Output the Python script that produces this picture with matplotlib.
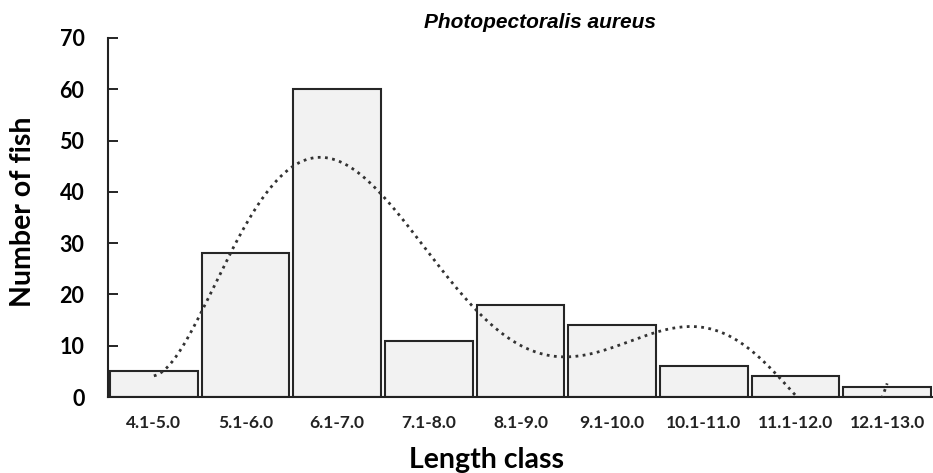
import numpy as np
from matplotlib import pyplot as plt

classes = ["4.1-5.0", "5.1-6.0", "6.1-7.0", "7.1-8.0", "8.1-9.0",
           "9.1-10.0", "10.1-11.0", "11.1-12.0", "12.1-13.0"]
counts = [5, 28, 60, 11, 18, 14, 6, 4, 2]
title = "Photopectoralis aureus"

x = np.arange(len(classes))

fig = plt.figure(figsize=(9.33, 4.73), dpi=100)
ax = fig.add_axes([108/933, 76/473, 1 - 108/933, 359/473])

ax.bar(x, counts, width=0.955, color="#f2f2f2", edgecolor="#262626", linewidth=1.5, zorder=2)

# polynomial trendline (order 6), like the excel one
coef = np.polyfit(x, counts, 6)
xs = np.linspace(x[0], x[-1], 400)
ax.plot(xs, np.polyval(coef, xs), linestyle=(0, (1, 1.6)), color="#333333", linewidth=2, zorder=3)

ax.set_xlim(-0.5, 8.5)
ax.set_ylim(0, 70)
ax.set_yticks(range(0, 71, 10))
ax.set_xticks(x)
ax.set_xticklabels(classes, fontsize=12.5, fontweight="bold", family="Lato", color="#222222")
ax.tick_params(axis="x", length=0, pad=13)
ax.tick_params(axis="y", direction="in", length=7, width=1.2, pad=17,
               labelsize=15.5)
for lab in ax.get_yticklabels():
    lab.set_fontweight("bold")
    lab.set_family("Lato")

for s in ["top", "right"]:
    ax.spines[s].set_visible(False)
ax.spines["left"].set_linewidth(1.5)
ax.spines["bottom"].set_linewidth(1.5)
ax.spines["left"].set_color("#222222")
ax.spines["bottom"].set_color("#222222")

fig.text(23/933, 1 - 212/473, "Number of fish", fontsize=20.5, fontweight="bold", family="Lato",
         rotation=90, ha="center", va="center")
fig.text(487/933, 1 - 460/473, "Length class", fontsize=20.5, fontweight="bold", family="Lato",
         ha="center", va="center")

fig.text(540/933, 1 - 22/473, title, fontsize=15, fontweight="bold", style="italic",
         family="Liberation Sans", ha="center", va="center")

fig.savefig("out.png", dpi=100)
